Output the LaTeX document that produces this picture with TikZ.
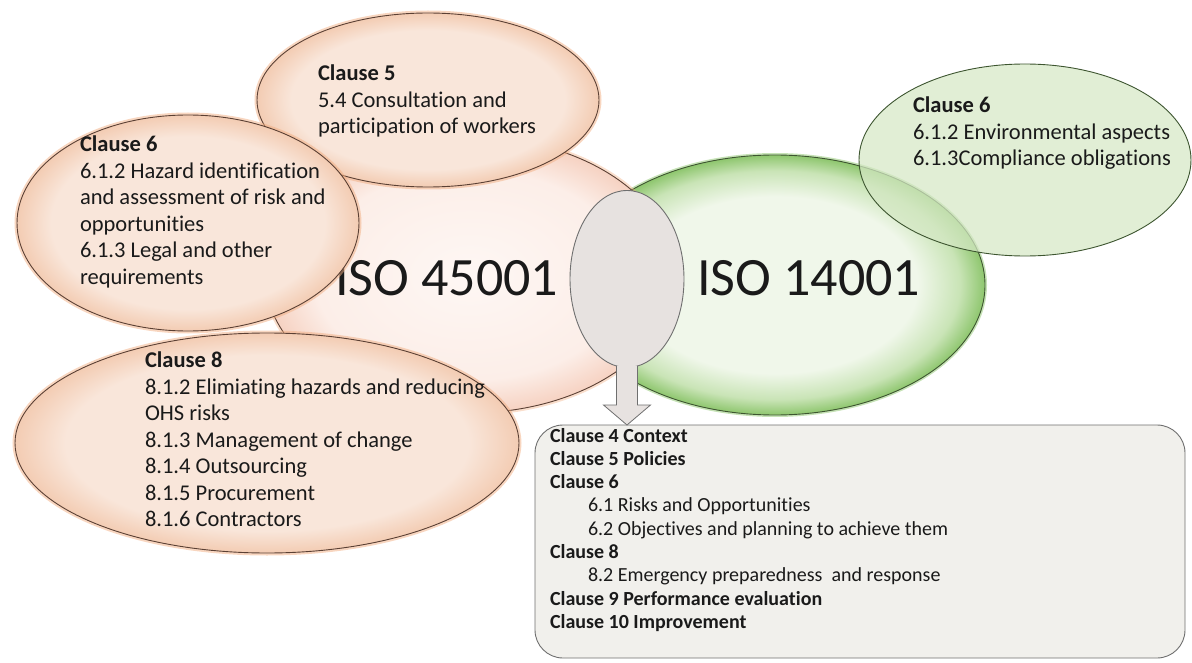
\documentclass[tikz,border=0pt]{standalone}
\usepackage{fontspec}
\setmainfont{Carlito}[Ligatures=NoCommon]
\usetikzlibrary{shapes.geometric,calc}
\definecolor{isoInk}{HTML}{1A1A1A}
\definecolor{isoEdge}{HTML}{5B4034}
\definecolor{isoPeach}{HTML}{F3CCB3}
\definecolor{isoPeachIn}{HTML}{F9E6DA}
\definecolor{isoBlush}{HTML}{F6D2C2}
\definecolor{isoBlushMid}{HTML}{FCEEE8}
\definecolor{isoBlushIn}{HTML}{FEF7F4}
\definecolor{isoGlow}{HTML}{F2AE82}
\definecolor{isoGreen}{HTML}{8EC66E}
\definecolor{isoGreenMid}{HTML}{C9E4B6}
\definecolor{isoGreenIn}{HTML}{F0F7EA}
\definecolor{isoLeaf}{HTML}{D5E8C5}
\definecolor{isoGreenEdge}{HTML}{3D5530}
\definecolor{isoStone}{HTML}{E7E2E0}
\definecolor{isoPaper}{HTML}{F1F0EC}
\definecolor{isoFrame}{HTML}{6F6F6F}
\pgfdeclareradialshading{isoPeachShade}{\pgfpoint{0bp}{0bp}}{%
  color(0bp)=(isoPeachIn); color(20bp)=(isoPeachIn);
  color(25bp)=(isoPeach); color(50bp)=(isoPeach)}
\pgfdeclareradialshading{isoBlushShade}{\pgfpoint{0bp}{0bp}}{%
  color(0bp)=(isoBlushIn); color(19bp)=(isoBlushMid);
  color(25bp)=(isoBlush); color(50bp)=(isoBlush)}
\pgfdeclareradialshading{isoGreenShade}{\pgfpoint{0bp}{0bp}}{%
  color(0bp)=(isoGreenIn); color(17bp)=(isoGreenIn);
  color(22bp)=(isoGreenMid); color(25bp)=(isoGreen); color(50bp)=(isoGreen)}
\tikzset{
  iso diagram/.style={
    x=1pt, y=-1pt,
    every node/.style={inner sep=0pt, outer sep=0pt, text=isoInk}
  },
  iso blob/.style={ellipse, draw=isoEdge, line width=0.9pt},
  ohs blob/.style={iso blob, shading=isoPeachShade,
    preaction={draw=isoGlow, line width=5pt, opacity=0.5}},
  ohs core/.style={iso blob, shading=isoBlushShade,
    preaction={draw=isoGlow, line width=5pt, opacity=0.4}},
  env core/.style={iso blob, draw=isoGreenEdge, shading=isoGreenShade,
    preaction={draw=isoGreen, line width=4pt, opacity=0.5}},
  env blob/.style={iso blob, draw=isoGreenEdge, fill=isoLeaf,
    fill opacity=0.72},
  clause text/.style={align=left, anchor=north west,
    font=\fontsize{22.5}{26.5}\selectfont},
  iso title/.style={anchor=base west, font=\fontsize{54}{60}\selectfont},
  summary text/.style={align=left, anchor=north west,
    font=\fontsize{20}{23.3}\selectfont}
}

\begin{document}
\begin{tikzpicture}[iso diagram]
  \useasboundingbox (0,0) rectangle (1192,663);
  % the two standards
  \node[env core, minimum width=420pt, minimum height=260pt] (iso14) at (775,285) {};
  \node[ohs core, minimum width=410pt, minimum height=276pt] (iso45) at (470,275) {};
  \node[iso title] (iso45 label) at (335,295) {ISO 45001};
  \node[iso title] (iso14 label) at (697,295) {ISO 14001};
  % clauses of ISO 45001
  \node[ohs blob, minimum width=342pt, minimum height=174pt] (cl5) at (428,100) {};
  \node[clause text] (cl5 text) at (318,65)
    {\textbf{Clause 5}\\5.4 Consultation and\\participation of workers};
  \node[ohs blob, minimum width=342pt, minimum height=216pt] (cl6) at (188,223) {};
  \node[clause text] (cl6 text) at (80,136)
    {\textbf{Clause 6}\\6.1.2 Hazard identification\\and assessment of risk and\\%
     opportunities\\6.1.3 Legal and other\\requirements};
  \node[ohs blob, minimum width=504pt, minimum height=220pt] (cl8) at (267,443) {};
  \node[clause text] (cl8 text) at (145,352)
    {\textbf{Clause 8}\\8.1.2 Elimiating hazards and reducing\\OHS risks\\%
     8.1.3 Management of change\\8.1.4 Outsourcing\\8.1.5 Procurement\\%
     8.1.6 Contractors};
  % clauses of ISO 14001
  \node[env blob, minimum width=332pt, minimum height=192pt] (env6) at (1025,160) {};
  \node[clause text] (env6 text) at (913,97)
    {\textbf{Clause 6}\\6.1.2 Environmental aspects\\6.1.3Compliance obligations};
  % common part
  \node[iso blob, draw=isoFrame, fill=isoStone, minimum width=114pt,
    minimum height=177pt] (common) at (627,279) {};
  \node[draw=isoFrame, fill=isoPaper, line width=0.9pt, rounded corners=28pt,
    minimum width=650pt, minimum height=233pt] (shared) at (860,541.5) {};
  \coordinate (tip) at (common.south |- shared.north);
  \filldraw[draw=isoFrame, fill=isoStone, line width=0.8pt]
    ($(common.south)+(-10.5,-2)$) -- ($(tip)+(-10.5,-20)$)
    -- ($(tip)+(-23.5,-20)$) -- (tip) -- ($(tip)+(23.5,-20)$)
    -- ($(tip)+(10.5,-20)$) -- ($(common.south)+(10.5,-2)$);
  \node[summary text] (shared text) at (550,428)
    {\textbf{Clause 4 Context}\\\textbf{Clause 5 Policies}\\\textbf{Clause 6}\\%
     \hspace*{38pt}6.1 Risks and Opportunities\\%
     \hspace*{38pt}6.2 Objectives and planning to achieve them\\%
     \textbf{Clause 8}\\\hspace*{38pt}8.2 Emergency preparedness\ \ and response\\%
     \textbf{Clause 9 Performance evaluation}\\\textbf{Clause 10 Improvement}};
\end{tikzpicture}
\end{document}
